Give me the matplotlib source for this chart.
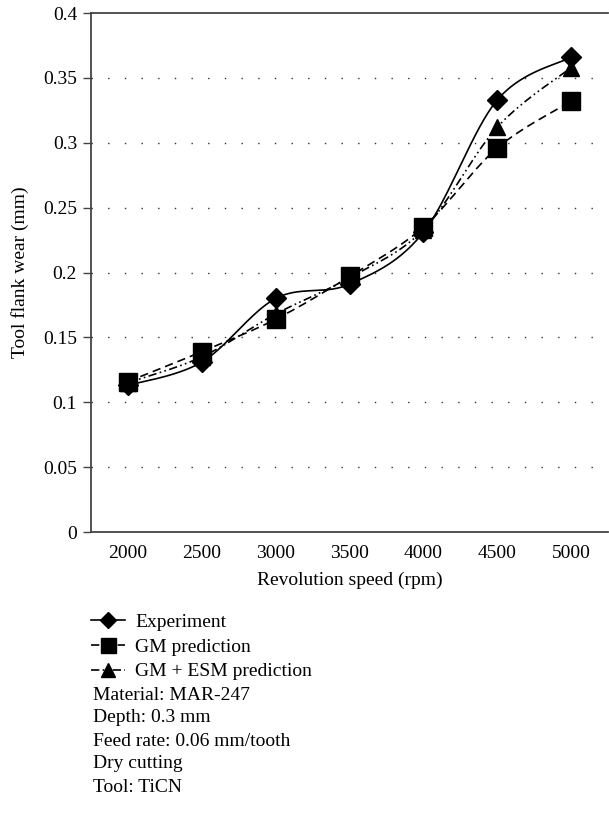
import numpy as np
import matplotlib.pyplot as plt
from matplotlib.lines import Line2D

plt.rcParams['font.family'] = ['Liberation Serif', 'DejaVu Serif']
plt.rcParams['font.size'] = 14

speeds = ['2000', '2500', '3000', '3500', '4000', '4500', '5000']
experiment = [0.113, 0.131, 0.180, 0.191, 0.231, 0.333, 0.366]
gm_pred = [0.116, 0.139, 0.164, 0.197, 0.235, 0.296, 0.332]
gm_esm_pred = [0.115, 0.135, 0.168, 0.196, 0.233, 0.312, 0.358]
notes = ['Material: MAR-247', 'Depth: 0.3 mm', 'Feed rate: 0.06 mm/tooth',
         'Dry cutting', 'Tool: TiCN']


def smooth(x, y, n=40):
    # bezier smoothing through the points (same idea as spreadsheet "smoothed line")
    p = np.column_stack([x, y]).astype(float)
    ext = np.vstack([p[0], p, p[-1]])
    t = np.linspace(0, 1, n)[:, None]
    out = []
    for i in range(len(p) - 1):
        p0, p1 = ext[i + 1], ext[i + 2]
        c1 = p0 + (ext[i + 2] - ext[i]) / 6
        c2 = p1 - (ext[i + 3] - ext[i + 1]) / 6
        seg = ((1 - t) ** 3) * p0 + 3 * ((1 - t) ** 2) * t * c1 + 3 * (1 - t) * t ** 2 * c2 + t ** 3 * p1
        out.append(seg if i == 0 else seg[1:])
    s = np.vstack(out)
    return s[:, 0], s[:, 1]


fig = plt.figure(figsize=(6.09, 8.16), dpi=100)
ax = fig.add_axes([0.1494, 0.348, 0.849, 0.636])

xs = np.arange(len(speeds))
series = [
    (experiment, '-', 'D', 9.8, 'Experiment'),
    (gm_pred, (0, (5, 3)), 's', 13.5, 'GM prediction'),
    (gm_esm_pred, (0, (5, 2, 1, 2, 1, 2)), '^', 12, 'GM + ESM prediction'),
]
handles = []
for vals, ls, mk, ms, lab in series:
    sx, sy = smooth(xs, vals)
    ax.plot(sx, sy, color='black', ls=ls, lw=1.2)
    ax.plot(xs, vals, ls='none', marker=mk, ms=ms, color='black')
    handles.append(Line2D([], [], color='black', ls=ls, lw=1.2, marker=mk,
                          ms=ms * 0.8, label=lab))

ax.set_xlim(-0.5, len(speeds) - 0.5)
ax.set_ylim(0, 0.4)
ax.set_xticks(xs)
ax.set_xticklabels(speeds)
ax.set_yticks(np.arange(0, 0.401, 0.05))
ax.set_yticklabels(['0', '0.05', '0.1', '0.15', '0.2', '0.25', '0.3', '0.35', '0.4'])
ax.tick_params(axis='x', length=0, pad=9)
ax.tick_params(axis='y', length=6, width=1, color='#444444', pad=4)
for yv in np.arange(0.05, 0.36, 0.05):
    ax.axhline(yv, color='#333333', lw=1.0, ls=(0, (1, 11)), zorder=0)

ax.spines['right'].set_visible(False)
for side in ['left', 'top', 'bottom']:
    ax.spines[side].set_color('#444444')
    ax.spines[side].set_linewidth(1.3)

ax.set_xlabel('Revolution speed (rpm)', labelpad=7)
ax.set_ylabel('Tool flank wear (mm)', labelpad=10)

fig.legend(handles=handles, loc='upper left', bbox_to_anchor=(0.150, 0.248),
           frameon=False, handlelength=1.75, handletextpad=0.5, labelspacing=0.36,
           numpoints=1, borderaxespad=0, borderpad=0)

for i, txt in enumerate(notes):
    fig.text(0.152, 1 - (695 + i * 23) / 816, txt, va='center', ha='left')

fig.savefig('out.png', dpi=100)
